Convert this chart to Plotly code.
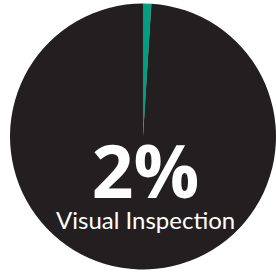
import plotly.graph_objects as go

labels = ["Visual Inspection", "Other"]
values = [1.0, 99.0]
colors = ["#009e82", "#231f20"]
big_label = "2%"
sub_label = "Visual Inspection"

W, H = 276, 273

fig = go.Figure(go.Pie(
    labels=labels,
    values=values,
    sort=False,
    direction="clockwise",
    rotation=0,
    marker=dict(colors=colors, line=dict(width=0)),
    textinfo="none",
    hoverinfo="none",
    showlegend=False,
    domain=dict(x=[10 / W, 1], y=[3 / H, 270 / H]),
))

text = (
    "<span style='font-family:Open Sans, Lato, sans-serif;font-size:73px;font-weight:bold'>"
    + big_label + "</span><br>" + sub_label
)
fig.add_annotation(
    x=145 / W, y=1 - 177 / H, xref="paper", yref="paper",
    text=text, showarrow=False, xanchor="center", yanchor="middle", align="center",
    font=dict(family="Lato, sans-serif", size=24, color="white"),
)

fig.update_layout(
    width=W, height=H,
    margin=dict(l=0, r=0, t=0, b=0),
    paper_bgcolor="white",
    plot_bgcolor="white",
)

fig.write_html("out.html", config={"displayModeBar": False},
               post_script="document.body.style.margin='0';")
